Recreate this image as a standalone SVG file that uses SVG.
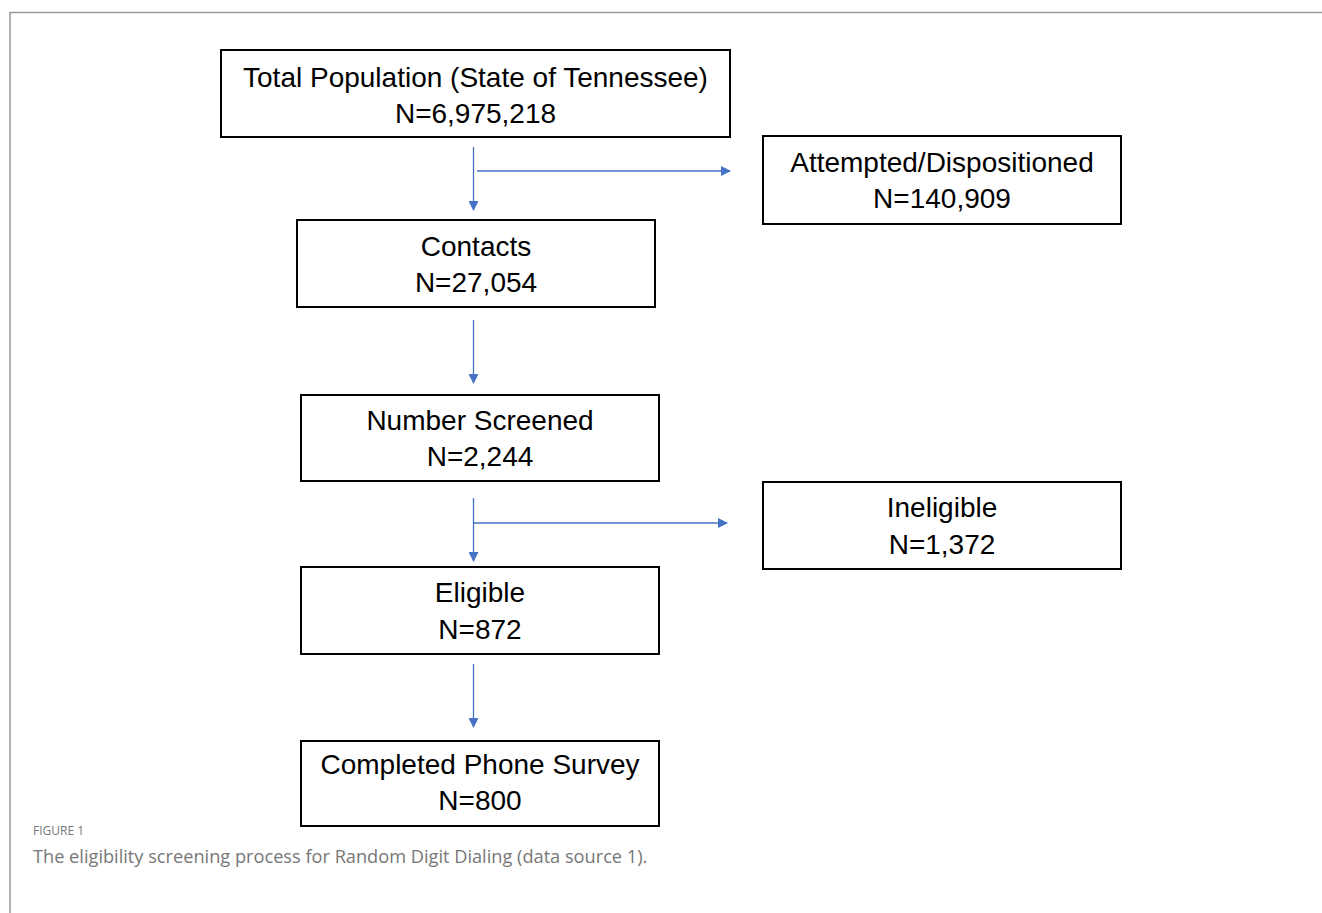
<svg xmlns="http://www.w3.org/2000/svg" width="1322" height="913" viewBox="0 0 1322 913">
<defs>
<marker id="ah" markerWidth="10" markerHeight="10" refX="9" refY="5" orient="auto" markerUnits="userSpaceOnUse">
<path d="M0,0 L10,5 L0,10 Z" fill="#4472C4"/>
</marker>
</defs>
<style>
.box{fill:#fff;stroke:#000;stroke-width:2}
.t{font-family:"Liberation Sans",Arial,sans-serif;font-size:28px;fill:#000;text-anchor:middle}
.c{stroke:#4472C4;stroke-width:1.3;fill:none}
.cap{font-family:"Open Sans",sans-serif;fill:#777}
</style>
<rect width="1322" height="913" fill="#fff"/>
<path d="M10,913 L10,12.5 L1322,12.5" fill="none" stroke="#999" stroke-width="1.5"/>
<g id="n1"><rect class="box" x="221" y="50" width="509" height="87"/><text class="t" x="475.5" y="87">Total Population (State of Tennessee)</text><text class="t" x="475.5" y="123">N=6,975,218</text></g>
<g id="n2"><rect class="box" x="763" y="136" width="358" height="88"/><text class="t" x="942" y="172">Attempted/Dispositioned</text><text class="t" x="942" y="208">N=140,909</text></g>
<g id="n3"><rect class="box" x="297" y="220" width="358" height="87"/><text class="t" x="476" y="256">Contacts</text><text class="t" x="476" y="292">N=27,054</text></g>
<g id="n4"><rect class="box" x="301" y="395" width="358" height="86"/><text class="t" x="480" y="430">Number Screened</text><text class="t" x="480" y="466">N=2,244</text></g>
<g id="n5"><rect class="box" x="763" y="482" width="358" height="87"/><text class="t" x="942" y="517">Ineligible</text><text class="t" x="942" y="554">N=1,372</text></g>
<g id="n6"><rect class="box" x="301" y="567" width="358" height="87"/><text class="t" x="480" y="602">Eligible</text><text class="t" x="480" y="639">N=872</text></g>
<g id="n7"><rect class="box" x="301" y="741" width="358" height="85"/><text class="t" x="480" y="774">Completed Phone Survey</text><text class="t" x="480" y="810">N=800</text></g>
<g id="connectors">
<line class="c" x1="473.5" y1="147" x2="473.5" y2="210" marker-end="url(#ah)"/>
<line class="c" x1="477" y1="171" x2="730" y2="171" marker-end="url(#ah)"/>
<line class="c" x1="473.5" y1="320" x2="473.5" y2="383" marker-end="url(#ah)"/>
<line class="c" x1="473.5" y1="498" x2="473.5" y2="561" marker-end="url(#ah)"/>
<line class="c" x1="473.5" y1="523" x2="727" y2="523" marker-end="url(#ah)"/>
<line class="c" x1="473.5" y1="664" x2="473.5" y2="727" marker-end="url(#ah)"/>
</g>
<text class="cap" x="33" y="835" font-size="12">FIGURE 1</text>
<text class="cap" x="33" y="863" font-size="18.2">The eligibility screening process for Random Digit Dialing (data source 1).</text>
</svg>
